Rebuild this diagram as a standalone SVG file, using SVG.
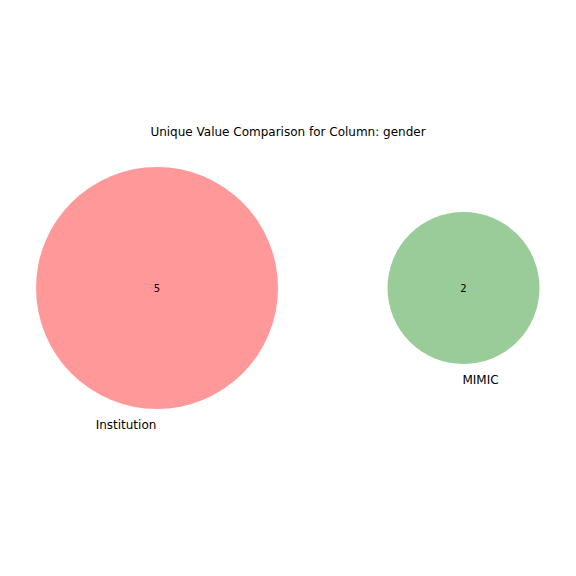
<svg xmlns="http://www.w3.org/2000/svg" width="576" height="576" viewBox="0 0 576 576">
<style>
text{font-family:"DejaVu Sans",sans-serif;fill:#000}
.t{font-size:12px;text-anchor:middle}
.n{font-size:10px;text-anchor:middle}
</style>
<rect width="576" height="576" fill="#fff"/>
<text class="t" x="288" y="136">Unique Value Comparison for Column: gender</text>
<g id="institution">
<circle cx="157" cy="288" r="121" fill="#ff9999"/>
<text class="n" x="157" y="291.5">5</text>
<text class="t" x="126" y="429">Institution</text>
</g>
<g id="mimic">
<circle cx="463.5" cy="288" r="76" fill="#99cc99"/>
<text class="n" x="463.5" y="291.5">2</text>
<text class="t" x="480.5" y="384">MIMIC</text>
</g>
<g id="connectors"/>
</svg>
